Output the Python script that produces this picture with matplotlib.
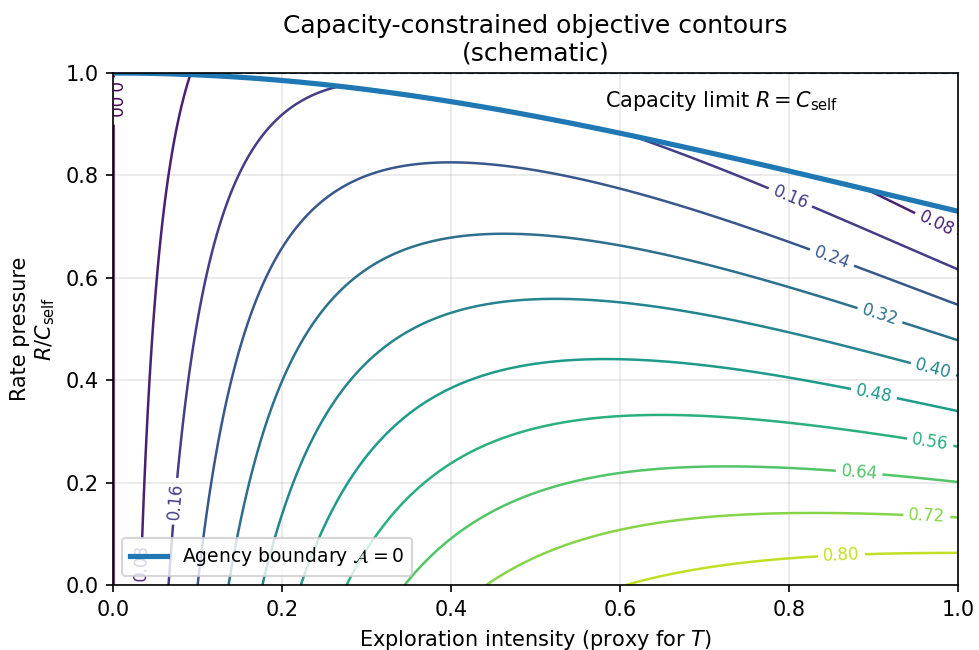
import numpy as np
import matplotlib
matplotlib.use("Agg")
import matplotlib.pyplot as plt

# contour levels (0.88 is not reached, it only sets the top of the colour scale)
levels = [0.00, 0.08, 0.16, 0.24, 0.32, 0.40, 0.48, 0.56, 0.64, 0.72, 0.80, 0.88]

# schematic objective J(T, R) = g(T) * (1 - R * q(T)), coefficients
g_coef = [2.4592, 2.676, 2.1646]              # a, b, n  in  g = a T / (1 + (b T)^n)^(1/n)
q_coef = [0.5837, 0.6553, -0.6419, 0.7279]    # q = q0 + q1 T + q2 T^2 + q3 T^3

# agency boundary  R (1 + kappa T^2) = C_self
kappa = 0.37

# where the contour labels sit
label_pos = [(0.0, 0.947), (0.033, 0.045), (0.064, 0.165), (0.977, 0.716),
             (0.801, 0.755), (0.851, 0.640), (0.908, 0.529), (0.971, 0.423),
             (0.900, 0.370), (0.967, 0.278), (0.883, 0.221), (0.963, 0.132),
             (0.862, 0.0605)]

T = np.linspace(0, 1, 500)
R = np.linspace(0, 1, 500)
TT, RR = np.meshgrid(T, R)

a, b, n = g_coef
g = a * TT / (1 + (b * TT) ** n) ** (1 / n)
q = np.polyval(q_coef[::-1], TT)
J = g * (1 - RR * q)

R_boundary = 1 / (1 + kappa * T ** 2)
J = np.ma.masked_where(RR > 1 / (1 + kappa * TT ** 2), J)

fig, ax = plt.subplots(figsize=(979 / 150, 650 / 150), dpi=150)
fig.subplots_adjust(left=0.1154, right=0.9786, top=0.8877, bottom=0.1)

cs = ax.contour(TT, RR, J, levels=levels, cmap="viridis", linewidths=1.2)
ax.clabel(cs, inline=True, fontsize=8, fmt="%.2f", manual=label_pos)

ax.plot(T, R_boundary, color="tab:blue", lw=2.5, label=r"Agency boundary $\mathcal{A}=0$")
ax.axhline(1.0, color="tab:blue", ls="--", lw=1.0)
ax.text(0.582, 0.945, r"Capacity limit $R=C_{\mathrm{self}}$", fontsize=10, va="center")

ax.set_xlim(0, 1)
ax.set_ylim(0, 1)
ax.set_xlabel(r"Exploration intensity (proxy for $T$)", fontsize=10)
ax.set_ylabel("Rate pressure\n" + r"$R/C_{\mathrm{self}}$", fontsize=10)
ax.set_title("Capacity-constrained objective contours\n(schematic)", fontsize=12)
ax.grid(True, alpha=0.3)
ax.legend(loc="lower left", fontsize=9)

fig.savefig("out.png", dpi=150)
